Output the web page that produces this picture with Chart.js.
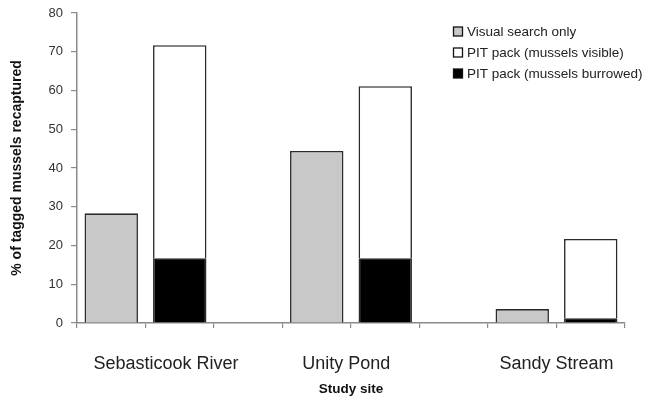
<!DOCTYPE html>
<html>
<head>
<meta charset="utf-8">
<title>Tagged mussels recaptured by study site</title>
<script src="https://cdn.jsdelivr.net/npm/chart.js@4/dist/chart.umd.min.js"></script>
<style>
  body { margin: 0; background: #fff; }
  #wrap { width: 650px; height: 400px; }
</style>
</head>
<body>
<div id="wrap"><canvas id="barChart" width="650" height="400"></canvas></div>
<script>
// Values (% of tagged mussels recaptured)
const sites = ['Sebasticook River', 'Unity Pond', 'Sandy Stream'];
const visualSearch = [28.3, 44.4, 3.6];      // grey bars
const pitBurrowed = [16.7, 16.7, 1.2];       // black, bottom of the PIT bar
const pitVisible = [55.0, 44.4, 20.5];       // white, stacked on top
const yTicks = [0, 10, 20, 30, 40, 50, 60, 70, 80];

// 8 slots on the x axis: grey, PIT, gap, grey, PIT, gap, grey, PIT
const slots = ['', '', '', '', '', '', '', ''];
const siteLabelAt = [1.3, 3.93, 7.0]; // where the site names sit along the axis

function spread(values, offset) {
  const out = slots.map(() => null);
  values.forEach((v, i) => { out[i * 3 + offset] = v; });
  return out;
}

const font = 'Liberation Sans, Arial, sans-serif';
const axisGrey = '#8a8a8a';
const edge = '#2a2a2a';

// simple legend drawn in the top right corner, stacked vertically
const cornerLegend = {
  id: 'cornerLegend',
  afterDraw(chart) {
    const ctx = chart.ctx;
    const order = [0, 2, 1];
    ctx.save();
    ctx.font = '13.5px ' + font;
    ctx.textBaseline = 'middle';
    order.forEach((di, row) => {
      const ds = chart.data.datasets[di];
      const y = 32 + row * 21;
      ctx.fillStyle = ds.backgroundColor;
      ctx.fillRect(453.5, y - 5, 9, 9);
      ctx.strokeStyle = '#111';
      ctx.lineWidth = 1.3;
      ctx.strokeRect(453.5, y - 5, 9, 9);
      ctx.fillStyle = '#222';
      ctx.fillText(ds.label, 467, y);
    });
    ctx.restore();
  }
};

const ctx = document.getElementById('barChart').getContext('2d');
new Chart(ctx, {
  type: 'bar',
  data: {
    labels: slots,
    datasets: [
      {
        label: 'Visual search only',
        data: spread(visualSearch, 0),
        backgroundColor: '#c8c8c8',
        borderColor: edge,
        borderWidth: 1.6
      },
      {
        label: 'PIT pack (mussels burrowed)',
        data: spread(pitBurrowed, 1),
        backgroundColor: '#000000',
        borderColor: edge,
        borderWidth: 1.6
      },
      {
        label: 'PIT pack (mussels visible)',
        data: spread(pitVisible, 1),
        backgroundColor: '#ffffff',
        borderColor: edge,
        borderWidth: 1.6
      }
    ]
  },
  options: {
    responsive: false,
    animation: false,
    layout: { padding: { left: 0, right: 25, top: 0, bottom: 0 } },
    datasets: { bar: { barPercentage: 0.78, categoryPercentage: 1.0 } },
    plugins: {
      legend: { display: false },
      tooltip: { enabled: false }
    },
    scales: {
      x: {
        stacked: true,
        offset: true,
        weight: 0,
        grid: { offset: true, drawOnChartArea: false, drawTicks: true, tickLength: 5, color: axisGrey, lineWidth: 1.2 },
        border: { color: axisGrey, width: 1.5 },
        ticks: { display: false },
        afterFit(scale) { scale.height = 8; }
      },
      sitesAxis: {
        type: 'linear',
        position: 'bottom',
        weight: 1,
        offset: false,
        min: 0,
        max: slots.length,
        grid: { display: false, drawTicks: false, offset: false },
        border: { display: false },
        afterBuildTicks(scale) { scale.ticks = siteLabelAt.map(v => ({ value: v })); },
        ticks: {
          autoSkip: false,
          maxRotation: 0,
          padding: 22,
          color: '#222',
          font: { family: font, size: 18 },
          callback: (v, i) => sites[i]
        },
        title: {
          display: true,
          text: 'Study site',
          color: '#111',
          font: { family: font, size: 13.5, weight: 'bold' },
          padding: { top: 3, bottom: 3 }
        },
        afterFit(scale) { scale.height = 69; }
      },
      y: {
        stacked: true,
        min: 0,
        max: 80,
        afterBuildTicks(scale) { scale.ticks = yTicks.map(v => ({ value: v })); },
        grid: { drawOnChartArea: false, drawTicks: true, tickLength: 6, color: axisGrey, lineWidth: 1.2 },
        border: { color: axisGrey, width: 1.5 },
        ticks: { color: '#333', padding: 8, font: { family: font, size: 13 } },
        title: {
          display: true,
          text: '% of tagged mussels recaptured',
          color: '#111',
          font: { family: font, size: 14, weight: 'bold' },
          padding: { top: 9, bottom: 4 }
        },
        afterFit(scale) {
          scale.width = 77;
          scale.paddingTop = 13;
        }
      }
    }
  },
  plugins: [cornerLegend]
});
</script>
</body>
</html>
